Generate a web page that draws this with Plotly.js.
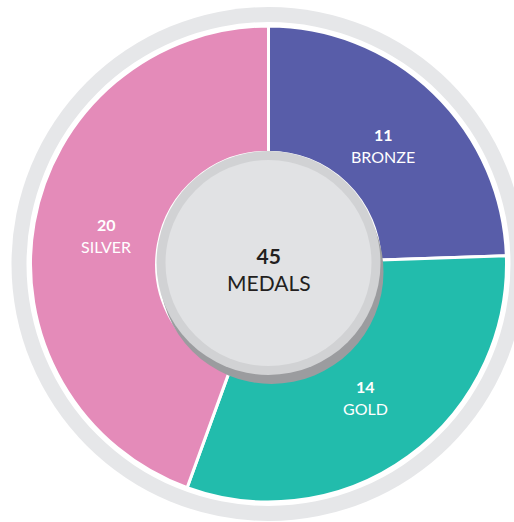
<!DOCTYPE html>
<html>
<head>
<meta charset="utf-8">
<script src="https://cdn.plot.ly/plotly-3.0.1.min.js"></script>
<style>
  html, body { margin: 0; padding: 0; background: #fff; }
  #chart { width: 514px; height: 522px; }
</style>
</head>
<body>
<div id="chart"></div>
<script>
// medal tally, clockwise from 12 o'clock
const medalLabels = ['BRONZE', 'GOLD', 'SILVER'];
const medalCounts = [11, 14, 20];
const medalColors = ['#585da9', '#22bcac', '#e48bb9'];
const centerLabel = 'MEDALS';

const W = 514, H = 522;
const CX = 268.5, CY = 264, R = 238;   // pie centre / radius in px
const LABEL_R = 165;                   // radius of the in-slice labels

// px -> paper helpers for the decorative circles
const px = (x) => x / W;
const py = (y) => 1 - y / H;
function circ(cx, cy, r, fill, layer) {
  return { type: 'circle', xref: 'paper', yref: 'paper', layer,
    x0: px(cx - r), x1: px(cx + r), y0: py(cy + r), y1: py(cy - r),
    fillcolor: fill, line: { width: 0 } };
}

const total = medalCounts.reduce((a, b) => a + b, 0);

// slice labels at each slice's mid-angle (clockwise from top)
const sliceAnn = [];
let acc = 0;
medalCounts.forEach((v, i) => {
  const mid = (acc + v / 2) / total * 2 * Math.PI;
  acc += v;
  const x = CX + LABEL_R * Math.sin(mid), y = CY - LABEL_R * Math.cos(mid);
  const base = { xref: 'paper', yref: 'paper', x: px(x), xanchor: 'center', yanchor: 'middle', showarrow: false };
  sliceAnn.push({ ...base, y: py(y - 11), text: `<b>${v}</b>`,
    font: { family: 'Lato, sans-serif', size: 16, color: '#ffffff' } });
  sliceAnn.push({ ...base, y: py(y + 11), text: medalLabels[i],
    font: { family: 'Lato, sans-serif', size: 16, color: '#ffffff' } });
});

const trace = {
  type: 'pie',
  labels: medalLabels,
  values: medalCounts,
  sort: false,
  direction: 'clockwise',
  rotation: 0,
  hole: 0.47,
  marker: { colors: medalColors, line: { color: '#ffffff', width: 3 } },
  textinfo: 'none',
  hoverinfo: 'skip',
  domain: { x: [px(CX - R), px(CX + R)], y: [py(CY + R), py(CY - R)] },
};

const layout = {
  width: W, height: H,
  margin: { l: 0, r: 0, t: 0, b: 0 },
  paper_bgcolor: '#ffffff',
  showlegend: false,
  shapes: [
    // outer grey ring
    circ(CX, CY, 257, '#e6e7e9', 'below'),
    circ(CX, CY, 242, '#ffffff', 'below'),
    // centre badge: drop shadow, rim, face
    circ(CX + 3, CY + 8, 112, '#9b9c9f', 'above'),
    circ(CX, CY - 1, 112, '#d1d2d4', 'above'),
    circ(CX, CY - 1, 103, '#e1e2e4', 'above'),
  ],
  annotations: [...sliceAnn, {
    xref: 'paper', yref: 'paper', x: px(CX), y: py(CY + 5),
    xanchor: 'center', yanchor: 'middle', showarrow: false,
    text: `<b>${total}</b><br>${centerLabel}`,
    font: { family: 'Lato, sans-serif', size: 21, color: '#231f20' },
  }],
};

Plotly.newPlot('chart', [trace], layout, { displayModeBar: false, staticPlot: true });
</script>
</body>
</html>
